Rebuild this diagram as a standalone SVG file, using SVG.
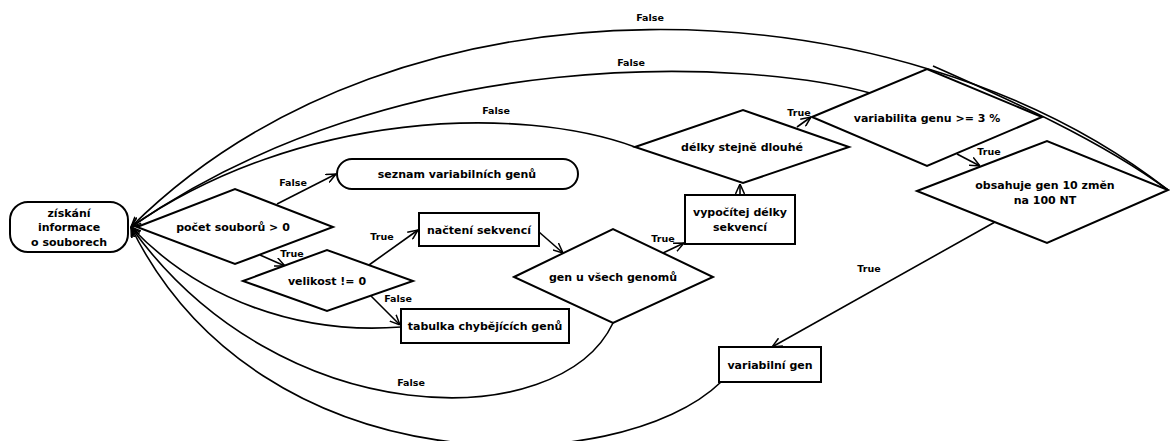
<svg xmlns="http://www.w3.org/2000/svg" width="1170" height="441" viewBox="0 0 1170 441">
<defs>
<marker id="arr" viewBox="0 0 10 10" refX="10" refY="5" markerWidth="10" markerHeight="10" orient="auto" markerUnits="userSpaceOnUse">
<path d="M0,0.5 L10,5 L0,9.5" fill="none" stroke="#000" stroke-width="1.5"/>
</marker>
<style>
.n{fill:#fff;stroke:#000;stroke-width:2}
.t{font-family:"DejaVu Sans",Verdana,sans-serif;font-weight:bold;font-size:11px;text-anchor:middle;fill:#000}
.l{font-family:"DejaVu Sans",Verdana,sans-serif;font-weight:bold;font-size:9.5px;text-anchor:middle;fill:#000}
.e{fill:none;stroke:#000;stroke-width:1.6;marker-end:url(#arr)}
.p{fill:none;stroke:#000;stroke-width:1.6}
</style>
</defs>
<rect width="1170" height="441" fill="#fff"/>
<g id="connectors">
<path class="e" d="M1168,190 C900,-20 400,-40 131,227"/>
<path class="p" d="M933,66 C1010,100 1100,140 1168,190"/>
<path class="e" d="M870,93 C750,60 400,40 131,227"/>
<path class="e" d="M635,147 C520,105 300,110 131,227"/>
<path class="e" d="M401,327 C300,335 200,300 131,227"/>
<path class="e" d="M613,323 C560,435 280,435 131,227"/>
<path class="e" d="M721,382 C620,480 260,490 131,227"/>
<path class="e" d="M277,204 L336,174"/>
<path class="e" d="M260,255 L285,266"/>
<path class="e" d="M369,265 L418,230"/>
<path class="e" d="M371,296 L400,325"/>
<path class="e" d="M539,232 L563,253"/>
<path class="e" d="M663,253 L684,243"/>
<path class="e" d="M740,195 L740,184"/>
<path class="e" d="M797,127 L811,117"/>
<path class="e" d="M957,154 L980,166"/>
<path class="e" d="M995,222 L772,347"/>
<text class="l" x="650" y="21">False</text>
<text class="l" x="631" y="66">False</text>
<text class="l" x="496" y="114">False</text>
<text class="l" x="293" y="186">False</text>
<text class="l" x="292" y="257">True</text>
<text class="l" x="382" y="240">True</text>
<text class="l" x="398" y="302">False</text>
<text class="l" x="663" y="242">True</text>
<text class="l" x="799" y="116">True</text>
<text class="l" x="989" y="155">True</text>
<text class="l" x="869" y="272">True</text>
<text class="l" x="411" y="386">False</text>
</g>
<g id="start">
<rect class="n" x="10" y="202" width="118" height="50" rx="18"/>
<text class="t" x="69" y="217">získání</text>
<text class="t" x="69" y="231">informace</text>
<text class="t" x="69" y="246">o souborech</text>
</g>
<g id="pocet">
<polygon class="n" points="137,227 235,189 333,227 235,264"/>
<text class="t" x="233" y="231">počet souborů &gt; 0</text>
</g>
<g id="seznam">
<rect class="n" x="337" y="159" width="241" height="30" rx="15"/>
<text class="t" x="457" y="178">seznam variabilních genů</text>
</g>
<g id="velikost">
<polygon class="n" points="243,281 327,250 413,281 327,311"/>
<text class="t" x="327" y="285">velikost != 0</text>
</g>
<g id="nacteni">
<rect class="n" x="419" y="213" width="120" height="33"/>
<text class="t" x="479" y="234">načtení sekvencí</text>
</g>
<g id="tabulka">
<rect class="n" x="401" y="309" width="168" height="34"/>
<text class="t" x="485" y="330">tabulka chybějících genů</text>
</g>
<g id="gen">
<polygon class="n" points="514,277 613,229 713,277 613,323"/>
<text class="t" x="613" y="281">gen u všech genomů</text>
</g>
<g id="vypocitej">
<rect class="n" x="685" y="195" width="110" height="49"/>
<text class="t" x="740" y="216">vypočítej délky</text>
<text class="t" x="740" y="231">sekvencí</text>
</g>
<g id="delky">
<polygon class="n" points="635,147 743,110 849,147 743,183"/>
<text class="t" x="742" y="151">délky stejně dlouhé</text>
</g>
<g id="variabilita">
<polygon class="n" points="812,117 927,69 1042,117 927,166"/>
<text class="t" x="927" y="122">variabilita genu &gt;= 3 %</text>
</g>
<g id="obsahuje">
<polygon class="n" points="917,191 1047,141 1168,190 1047,243"/>
<text class="t" x="1045" y="189">obsahuje gen 10 změn</text>
<text class="t" x="1045" y="204">na 100 NT</text>
</g>
<g id="variabilni">
<rect class="n" x="719" y="347" width="102" height="35"/>
<text class="t" x="770" y="369">variabilní gen</text>
</g>
</svg>
